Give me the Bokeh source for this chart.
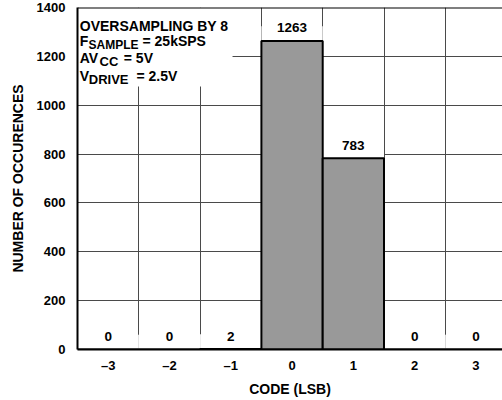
from bokeh.plotting import figure
from bokeh.models import FixedTicker, BoxAnnotation, Span, Label
from bokeh.core.properties import value
from bokeh.embed import file_html
from bokeh.resources import INLINE

# ---- data ----
codes = [-3, -2, -1, 0, 1, 2, 3]
counts = [0, 0, 2, 1263, 783, 0, 0]
code_labels = ["\u20133", "\u20132", "\u20131", "0", "1", "2", "3"]
y_ticks = [0, 200, 400, 600, 800, 1000, 1200, 1400]
x_title = "CODE (LSB)"
y_title = "NUMBER OF OCCURENCES"

FONT = "Liberation Sans"

p = figure(width=502, height=400, output_backend="svg", toolbar_location=None,
           x_range=(-3.5, 3.433), y_range=(0, 1400),
           min_border_left=77, min_border_right=0, min_border_top=7,
           min_border_bottom=51, background_fill_color="white",
           border_fill_color="white")
p.outline_line_color = None

# grids
p.xgrid.ticker = FixedTicker(ticks=[c + 0.5 for c in codes[:-1]])
p.ygrid.ticker = FixedTicker(ticks=y_ticks[1:-1])
for g in (p.xgrid, p.ygrid):
    g.grid_line_color = "#4a4a4a"
    g.grid_line_width = 1

# axes
p.xaxis.ticker = FixedTicker(ticks=codes)
p.xaxis.major_label_overrides = {c: l for c, l in zip(codes, code_labels)}
p.yaxis.ticker = FixedTicker(ticks=y_ticks)
p.xaxis.axis_label = x_title
p.yaxis.axis_label = y_title
for ax in (p.xaxis, p.yaxis):
    ax.axis_line_color = "black"
    ax.axis_line_width = 2
    ax.major_tick_line_color = None
    ax.minor_tick_line_color = None
    ax.major_label_text_font = FONT
    ax.major_label_text_font_style = "bold"
    ax.major_label_text_font_size = "13px"
    ax.major_label_text_color = "black"
    ax.axis_label_text_font = FONT
    ax.axis_label_text_font_style = "bold"
    ax.axis_label_text_font_size = "14px"
    ax.axis_label_text_color = "black"
p.yaxis.major_label_standoff = 6
p.yaxis.axis_label_standoff = 8
p.xaxis.major_label_standoff = 2
p.xaxis.axis_label_standoff = 5

# top border
p.add_layout(Span(location=1400, dimension="width", line_color="black", line_width=2))

# white space above bars (hides grid behind value labels)
p.vbar(x=codes, bottom=counts, top=[c + 60 for c in counts], width=1,
       fill_color="white", line_color=None)
# bars
p.vbar(x=codes, bottom=0, top=counts, width=1, fill_color="#999999",
       line_color="black", line_width=2)

# value labels
p.text(x=codes, y=counts, text=[str(c) for c in counts], text_align="center",
       text_baseline="middle", y_offset=-13, text_font=value(FONT),
       text_font_style="bold", text_font_size="13.5px", text_color="black")

# condition box
box = BoxAnnotation(left=-3.5, right=-0.971, bottom=1077, top=1400,
                    fill_color="white", fill_alpha=1, line_color=None,
                    level="underlay")
p.add_layout(box)

pieces = [
    ("OVERSAMPLING BY 8", 2.3, 18, "14px"),
    ("F", 2.3, 33, "14px"), ("SAMPLE", 11.0, 37, "12px"), ("= 25kSPS", 65.0, 33, "14px"),
    ("AV", 2.3, 50, "14px"), ("CC", 22, 54, "13px"), ("= 5V", 46.3, 50, "14px"),
    ("V", 2.3, 68, "14px"), ("DRIVE", 11.3, 72, "13px"), ("= 2.5V", 59, 68, "14px"),
]
for txt, dx, dy, fs in pieces:
    p.add_layout(Label(x=-3.5, y=1400, x_offset=dx, y_offset=-dy, text=txt,
                       text_font=FONT, text_font_style="bold", text_font_size=fs,
                       text_color="black", text_baseline="alphabetic",
                       text_align="left"))

open("out.html", "w").write(file_html(p, INLINE))
